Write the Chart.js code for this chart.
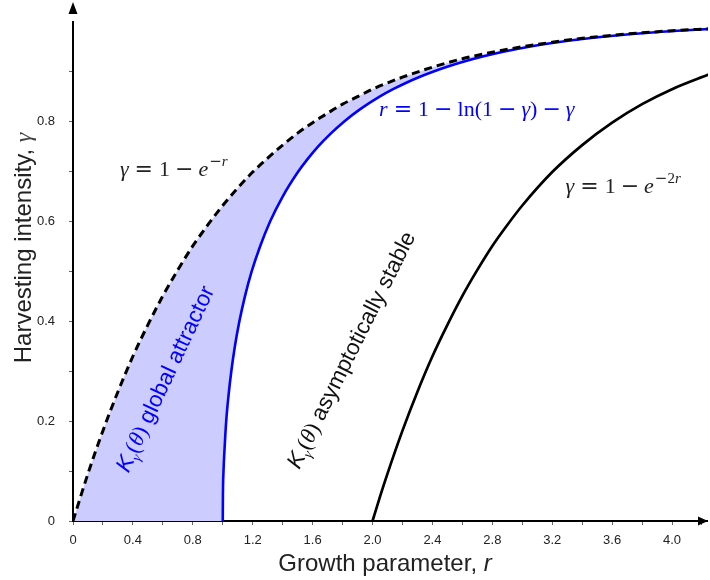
<!DOCTYPE html>
<html>
<head>
<meta charset="utf-8">
<script src="https://cdn.jsdelivr.net/npm/chart.js@4.4.0/dist/chart.umd.min.js"></script>
<style>
  html, body { margin: 0; padding: 0; background: #fff; }
</style>
</head>
<body>
<canvas id="harvestChart" width="710" height="580"></canvas>
<script>
// dashed curve  gamma = 1 - e^-r
var dashR = [0, 0.1, 0.2, 0.3, 0.4, 0.5, 0.6, 0.7, 0.8, 0.9, 1.0, 1.1, 1.2, 1.3, 1.4, 1.5, 1.6, 1.7, 1.8, 1.9, 2.0, 2.2, 2.4, 2.6, 2.8, 3.0, 3.2, 3.4, 3.6, 3.8, 4.0, 4.25];
var dashG = [0, 0.095, 0.181, 0.259, 0.330, 0.393, 0.451, 0.503, 0.551, 0.593, 0.632, 0.667, 0.699, 0.727, 0.753, 0.777, 0.798, 0.817, 0.835, 0.850, 0.865, 0.889, 0.909, 0.926, 0.939, 0.950, 0.959, 0.967, 0.973, 0.978, 0.982, 0.986];

// blue boundary  r = 1 - ln(1-gamma) - gamma
var blueR = [1.0, 1.001, 1.005, 1.013, 1.023, 1.038, 1.057, 1.081, 1.111, 1.148, 1.193, 1.249, 1.316, 1.400, 1.504, 1.566, 1.636, 1.717, 1.809, 1.918, 2.047, 2.137, 2.240, 2.317, 2.403, 2.498, 2.606, 2.729, 2.873, 3.046, 3.259, 3.387, 3.537, 3.714, 3.932, 4.092, 4.283];
var blueG = [0, 0.05, 0.1, 0.15, 0.2, 0.25, 0.3, 0.35, 0.4, 0.45, 0.5, 0.55, 0.6, 0.65, 0.7, 0.725, 0.75, 0.775, 0.8, 0.825, 0.85, 0.865, 0.88, 0.89, 0.9, 0.91, 0.92, 0.93, 0.94, 0.95, 0.96, 0.965, 0.97, 0.975, 0.98, 0.983, 0.986];

// solid black curve starting at r = 2
var solidR = [2.0, 2.05, 2.1, 2.2, 2.3, 2.4, 2.5, 2.6, 2.7, 2.8, 2.9, 3.0, 3.2, 3.4, 3.6, 3.8, 4.0, 4.25];
var solidG = [0, 0.049, 0.095, 0.181, 0.259, 0.330, 0.393, 0.451, 0.503, 0.551, 0.593, 0.632, 0.699, 0.753, 0.798, 0.835, 0.865, 0.895];

// tick labels
var xTickVals = [0, 0.4, 0.8, 1.2, 1.6, 2.0, 2.4, 2.8, 3.2, 3.6, 4.0];
var xTickText = ["0", "0.4", "0.8", "1.2", "1.6", "2.0", "2.4", "2.8", "3.2", "3.6", "4.0"];
var yTickVals = [0, 0.2, 0.4, 0.6, 0.8];
var yTickText = ["0", "0.2", "0.4", "0.6", "0.8"];

var SANS = "'Liberation Sans', Arial, sans-serif";
var SERIF = "'Liberation Serif', 'Times New Roman', serif";
var OPS = "'DejaVu Serif', serif";

function pts(xs, ys) {
  return xs.map(function (x, i) { return {x: x, y: ys[i]}; });
}

function tickLabel(v, vals, text) {
  for (var i = 0; i < vals.length; i++) {
    if (Math.abs(v - vals[i]) < 1e-6) return text[i];
  }
  return '';
}

// text made of several pieces with their own font
function richWidth(ctx, parts, size) {
  var w = 0;
  parts.forEach(function (p) {
    ctx.font = (p.st || 'normal') + ' ' + (size * (p.k || 1)).toFixed(1) + 'px ' + p.f;
    w += ctx.measureText(p.t).width + 2 * (p.pad || 0);
  });
  return w;
}

function drawRich(ctx, parts, x, y, size, color, angle, center) {
  ctx.save();
  ctx.translate(x, y);
  if (angle) ctx.rotate(angle * Math.PI / 180);
  ctx.textAlign = 'left';
  ctx.textBaseline = 'alphabetic';
  var cx = center ? -richWidth(ctx, parts, size) / 2 : 0;
  parts.forEach(function (p) {
    ctx.font = (p.st || 'normal') + ' ' + (size * (p.k || 1)).toFixed(1) + 'px ' + p.f;
    ctx.fillStyle = p.c || color;
    cx += p.pad || 0;
    ctx.fillText(p.t, cx, (p.dy || 0) * size);
    cx += ctx.measureText(p.t).width + (p.pad || 0);
  });
  ctx.restore();
}

function it(t) { return {t: t, st: 'italic', f: SERIF}; }
function up(t) { return {t: t, f: SERIF}; }
function op(t, pad) { return {t: t, f: OPS, pad: pad}; }
function sup(t, italic) { return {t: t, st: italic ? 'italic' : 'normal', f: italic ? SERIF : OPS, k: 0.68, dy: -0.42}; }

var eq1 = [it('γ'), op('=', 6), up('1'), op('−', 5), it('e'), {t: '', f: SERIF, pad: 0.5}, sup('−'), sup('r', true)];
var eq2 = [it('r'), op('=', 6), up('1'), op('−', 5), up('ln'), up('('), up('1'), op('−', 5), it('γ'), up(')'), op('−', 5), it('γ')];
var eq3 = [it('γ'), op('=', 6), up('1'), op('−', 5), it('e'), {t: '', f: SERIF, pad: 0.5}, sup('−'), {t: '2', f: SERIF, k: 0.68, dy: -0.42}, sup('r', true)];

function kLabel(rest) {
  return [
    {t: 'K', st: 'italic', f: SANS},
    {t: 'γ', st: 'italic', f: SERIF, k: 0.62, dy: 0.22},
    {t: '(', f: SERIF, pad: 0.5},
    {t: 'θ', st: 'italic', f: SERIF},
    {t: ')', f: SERIF},
    {t: rest, f: SANS}
  ];
}

var labelPlugin = {
  id: 'labelPlugin',
  afterDatasetsDraw: function (chart) {
    var ctx = chart.ctx;
    var xs = chart.scales.x, ys = chart.scales.y;
    function X(r) { return xs.getPixelForValue(r); }
    function Y(g) { return ys.getPixelForValue(g); }

    drawRich(ctx, eq1, X(0.313), Y(0.692), 22, '#222');
    drawRich(ctx, eq2, X(2.044), Y(0.812), 22, '#0000ff');
    drawRich(ctx, eq3, X(3.289), Y(0.658), 22, '#222');

    drawRich(ctx, kLabel(' global attractor'), X(0.37), Y(0.095), 22.5, '#0000ff', -64.8);
    drawRich(ctx, kLabel(' asymptotically stable'), X(1.511), Y(0.102), 22.5, '#111', -63.5);
  },
  afterDraw: function (chart) {
    var ctx = chart.ctx;
    var a = chart.chartArea;
    ctx.save();
    ctx.fillStyle = '#000';
    // x arrow
    ctx.beginPath();
    ctx.moveTo(a.right, a.bottom);
    ctx.lineTo(a.right - 10, a.bottom - 4.5);
    ctx.lineTo(a.right - 10, a.bottom + 4.5);
    ctx.closePath();
    ctx.fill();
    // y arrow
    ctx.beginPath();
    ctx.moveTo(a.left, 2);
    ctx.lineTo(a.left - 4.5, 14);
    ctx.lineTo(a.left + 4.5, 14);
    ctx.closePath();
    ctx.fill();
    ctx.restore();

    // axis titles
    drawRich(ctx, [{t: 'Growth parameter, ', f: SANS}, {t: 'r', st: 'italic', f: SANS}], 385, 571, 24, '#222', 0, true);
    drawRich(ctx, [{t: 'Harvesting intensity, ', f: SANS}, {t: 'γ', st: 'italic', f: SERIF, c: '#444'}], 31, 248, 24, '#222', -90, true);
  }
};

var regionPts = pts(dashR, dashG).concat(pts(blueR, blueG).reverse());

new Chart(document.getElementById('harvestChart'), {
  type: 'line',
  data: {
    datasets: [
      {
        label: 'region',
        data: regionPts,
        borderColor: 'rgba(0,0,0,0)',
        borderWidth: 1,
        backgroundColor: '#ccccff',
        fill: 'shape',
        pointRadius: 0,
        tension: 0,
        order: 3
      },
      {
        label: 'solid',
        data: pts(solidR, solidG),
        borderColor: '#000',
        borderWidth: 2.7,
        fill: false,
        pointRadius: 0,
        cubicInterpolationMode: 'monotone',
        order: 2
      },
      {
        label: 'boundary',
        data: pts(blueR, blueG),
        borderColor: '#0000ff',
        borderWidth: 2.6,
        fill: false,
        pointRadius: 0,
        cubicInterpolationMode: 'monotone',
        order: 1
      },
      {
        label: 'dashed',
        data: pts(dashR, dashG),
        borderColor: '#000',
        borderWidth: 3,
        borderDash: [8, 5],
        fill: false,
        pointRadius: 0,
        cubicInterpolationMode: 'monotone',
        order: 0
      }
    ]
  },
  options: {
    responsive: false,
    animation: false,
    layout: { padding: { top: 4, right: 0, left: 0, bottom: 0 } },
    plugins: { legend: { display: false }, tooltip: { enabled: false } },
    scales: {
      x: {
        type: 'linear',
        min: 0,
        max: 4.24,
        afterFit: function (s) { s.height = 59; },
        border: { display: true, color: '#000', width: 2 },
        grid: { drawOnChartArea: false, drawTicks: true, tickLength: 4, tickColor: '#666' },
        ticks: {
          stepSize: 0.2,
          includeBounds: false,
          autoSkip: false,
          maxRotation: 0,
          padding: 8,
          color: '#222',
          font: { family: SANS, size: 13 },
          callback: function (v) { return tickLabel(v, xTickVals, xTickText); }
        }
      },
      y: {
        type: 'linear',
        min: 0,
        max: 1.0,
        afterFit: function (s) { s.width = 73; },
        border: { display: true, color: '#000', width: 2 },
        grid: { drawOnChartArea: false, drawTicks: true, tickLength: 4, tickColor: '#666' },
        ticks: {
          stepSize: 0.1,
          includeBounds: false,
          autoSkip: false,
          padding: 14,
          color: '#222',
          font: { family: SANS, size: 13 },
          callback: function (v) {
            if (v > 0.95) return null;
            return tickLabel(v, yTickVals, yTickText);
          }
        }
      }
    }
  },
  plugins: [labelPlugin]
});
</script>
</body>
</html>
